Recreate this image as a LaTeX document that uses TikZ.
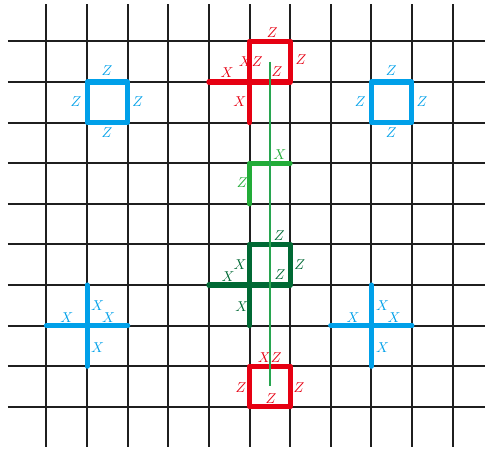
\documentclass[tikz,border=0pt]{standalone}
\usepackage{xcolor}
\usepackage{tikz}
\definecolor{tcred}{RGB}{230,0,18}
\definecolor{tcblue}{RGB}{0,160,233}
\definecolor{tclight}{RGB}{34,172,56}
\definecolor{tcdark}{RGB}{0,105,52}
\definecolor{tcthin}{RGB}{40,165,80}
\tikzset{
  tcgrid/.style={line width=1.4pt, draw=black!88},
  tcbold/.style={line width=3.6pt, line cap=round, line join=round},
  tcpath/.style={line width=1.2pt, draw=tcthin},
  tclab/.style={inner sep=0pt, font=\normalsize},
}
\begin{document}
\begin{tikzpicture}
\useasboundingbox (-1.145,-1.06) rectangle (10.80,10.02);
% lattice
\foreach \j in {0,...,9}
  \draw[tcgrid] (-0.95,\j) -- (10.80,\j);
\foreach \i in {0,...,10}
  \draw[tcgrid] (\i,-0.98) -- (\i,9.93);
% plaquettes
\draw[tcbold, draw=tcblue] (1,7) rectangle (2,8);
\draw[tcbold, draw=tcblue] (8,7) rectangle (9,8);
\node[tclab, text=tcblue] (bza) at (1.49,8.28) {$Z$};
\node[tclab, text=tcblue] (bzb) at (0.73,7.51) {$Z$};
\node[tclab, text=tcblue] (bzc) at (2.25,7.51) {$Z$};
\node[tclab, text=tcblue] (bzd) at (1.49,6.75) {$Z$};
\node[tclab, text=tcblue] (bze) at (8.49,8.28) {$Z$};
\node[tclab, text=tcblue] (bzf) at (7.73,7.51) {$Z$};
\node[tclab, text=tcblue] (bzg) at (9.25,7.51) {$Z$};
\node[tclab, text=tcblue] (bzh) at (8.49,6.75) {$Z$};
% stars
\draw[tcbold, draw=tcblue] (0,2) -- (2,2);
\draw[tcbold, draw=tcblue] (1,3) -- (1,1);
\draw[tcbold, draw=tcblue] (7,2) -- (9,2);
\draw[tcbold, draw=tcblue] (8,3) -- (8,1);
\node[tclab, text=tcblue] (bxa) at (0.50,2.19) {$X$};
\node[tclab, text=tcblue] (bxb) at (1.26,2.50) {$X$};
\node[tclab, text=tcblue] (bxc) at (1.53,2.19) {$X$};
\node[tclab, text=tcblue] (bxd) at (1.26,1.45) {$X$};
\node[tclab, text=tcblue] (bxe) at (7.55,2.19) {$X$};
\node[tclab, text=tcblue] (bxf) at (8.28,2.50) {$X$};
\node[tclab, text=tcblue] (bxg) at (8.56,2.19) {$X$};
\node[tclab, text=tcblue] (bxh) at (8.28,1.45) {$X$};
% red top
\draw[tcbold, draw=tcred] (4,8) -- (6,8) -- (6,9) -- (5,9) -- (5,7);
\node[tclab, text=tcred] (rza) at (5.56,9.21) {$Z$};
\node[tclab, text=tcred] (rzb) at (6.27,8.55) {$Z$};
\node[tclab, text=tcred] (rzc) at (5.68,8.25) {$Z$};
\node[tclab, text=tcred] (rxz) at (5.03,8.50) {$XZ$};
\node[tclab, text=tcred] (rxa) at (4.45,8.23) {$X$};
\node[tclab, text=tcred] (rxb) at (4.76,7.51) {$X$};
% light green
\draw[tcbold, draw=tclight] (5,5) -- (5,6) -- (6,6);
\node[tclab, text=tclight] (lxa) at (5.75,6.21) {$X$};
\node[tclab, text=tclight] (lza) at (4.82,5.52) {$Z$};
% dark green
\draw[tcbold, draw=tcdark] (4,3) -- (6,3) -- (6,4) -- (5,4) -- (5,2);
\node[tclab, text=tcdark] (dza) at (5.73,4.21) {$Z$};
\node[tclab, text=tcdark] (dzb) at (6.24,3.50) {$Z$};
\node[tclab, text=tcdark] (dzc) at (5.75,3.25) {$Z$};
\node[tclab, text=tcdark] (dxa) at (4.77,3.50) {$X$};
\node[tclab, text=tcdark] (dxb) at (4.47,3.20) {$X$};
\node[tclab, text=tcdark] (dxc) at (4.81,2.46) {$X$};
% red bottom
\draw[tcbold, draw=tcred] (5,0) rectangle (6,1);
\node[tclab, text=tcred] (sxz) at (5.50,1.21) {$XZ$};
\node[tclab, text=tcred] (sza) at (4.79,0.47) {$Z$};
\node[tclab, text=tcred] (szb) at (6.22,0.47) {$Z$};
\node[tclab, text=tcred] (szc) at (5.53,0.20) {$Z$};
% string
\coordinate (ptop) at (5.5,8.5);
\coordinate (pbot) at (5.5,0.52);
\draw[tcpath] (ptop) -- (pbot);
\end{tikzpicture}
\end{document}
